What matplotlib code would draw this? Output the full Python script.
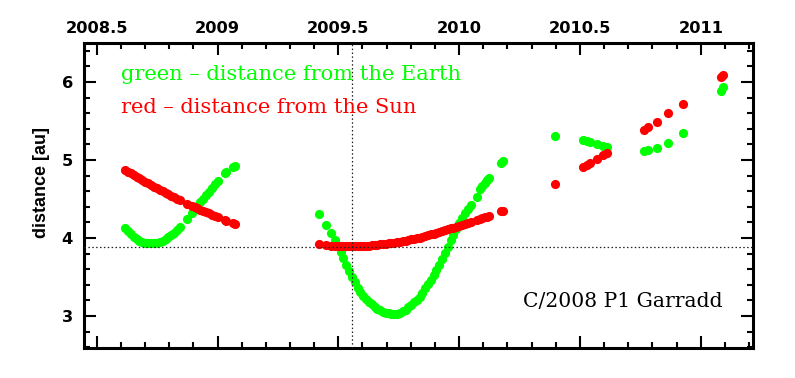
import matplotlib
matplotlib.use('Agg')
import matplotlib.pyplot as plt
from matplotlib.ticker import MultipleLocator, FuncFormatter

# epochs of the observations (decimal year)
dates = [
    2008.617, 2008.629, 2008.641, 2008.653, 2008.665, 2008.677, 2008.689, 2008.701, 2008.713, 2008.725,
    2008.737, 2008.749, 2008.761, 2008.773, 2008.785, 2008.797, 2008.809, 2008.821, 2008.833, 2008.845,
    2008.875, 2008.893, 2008.905, 2008.917, 2008.929, 2008.941, 2008.953, 2008.965, 2008.977, 2008.989,
    2009.001, 2009.030, 2009.036, 2009.066, 2009.072,
    2009.421, 2009.447, 2009.468, 2009.486, 2009.498, 2009.510, 2009.521, 2009.533, 2009.545, 2009.556,
    2009.568, 2009.580, 2009.591, 2009.603, 2009.615, 2009.626, 2009.638, 2009.650, 2009.661, 2009.673,
    2009.685, 2009.696, 2009.708, 2009.720, 2009.731, 2009.743, 2009.755, 2009.766, 2009.778, 2009.790,
    2009.801, 2009.813, 2009.825, 2009.836, 2009.848, 2009.860, 2009.871, 2009.883, 2009.895, 2009.906,
    2009.918, 2009.930, 2009.941, 2009.953, 2009.965, 2009.976, 2009.988, 2010.000, 2010.012, 2010.023,
    2010.035, 2010.047, 2010.072, 2010.087, 2010.096, 2010.106, 2010.116, 2010.122, 2010.172, 2010.180,
    2010.395, 2010.513, 2010.527, 2010.541, 2010.569, 2010.596, 2010.610,
    2010.766, 2010.782, 2010.817, 2010.865, 2010.927, 2011.083, 2011.093,
]

# distance from the Earth [au]
earth = [
    4.132, 4.092, 4.052, 4.018, 3.990, 3.968, 3.951, 3.940, 3.933, 3.932,
    3.935, 3.942, 3.953, 3.967, 3.985, 4.008, 4.035, 4.065, 4.100, 4.137,
    4.244, 4.324, 4.369, 4.414, 4.460, 4.505, 4.551, 4.596, 4.641, 4.687,
    4.732, 4.829, 4.845, 4.905, 4.920,
    4.310, 4.167, 4.060, 3.974, 3.900, 3.825, 3.745, 3.655, 3.572, 3.498,
    3.430, 3.362, 3.303, 3.258, 3.215, 3.178, 3.148, 3.118, 3.094, 3.074,
    3.056, 3.042, 3.033, 3.027, 3.026, 3.031, 3.043, 3.059, 3.083, 3.112,
    3.140, 3.174, 3.208, 3.247, 3.300, 3.354, 3.406, 3.464, 3.523, 3.585,
    3.660, 3.735, 3.808, 3.888, 3.969, 4.042, 4.118, 4.192, 4.262, 4.318,
    4.372, 4.420, 4.530, 4.624, 4.668, 4.710, 4.745, 4.765, 4.960, 4.990,
    5.312, 5.256, 5.248, 5.235, 5.205, 5.184, 5.171,
    5.115, 5.128, 5.150, 5.222, 5.350, 5.888, 5.932,
]

# distance from the Sun [au]
sun = [
    4.872, 4.850, 4.828, 4.806, 4.785, 4.763, 4.742, 4.721, 4.700, 4.680,
    4.660, 4.640, 4.620, 4.600, 4.581, 4.562, 4.543, 4.524, 4.505, 4.487,
    4.442, 4.416, 4.399, 4.382, 4.365, 4.348, 4.332, 4.316, 4.300, 4.284,
    4.268, 4.232, 4.224, 4.188, 4.181,
    3.918, 3.908, 3.902, 3.898, 3.896, 3.894, 3.893, 3.892, 3.892, 3.892,
    3.893, 3.894, 3.896, 3.898, 3.900, 3.903, 3.906, 3.909, 3.913, 3.917,
    3.921, 3.926, 3.930, 3.935, 3.941, 3.946, 3.952, 3.959, 3.966, 3.973,
    3.981, 3.989, 3.997, 4.006, 4.016, 4.027, 4.037, 4.047, 4.057, 4.067,
    4.078, 4.089, 4.100, 4.111, 4.122, 4.134, 4.145, 4.157, 4.169, 4.180,
    4.191, 4.203, 4.228, 4.243, 4.253, 4.264, 4.274, 4.281, 4.345, 4.352,
    4.692, 4.914, 4.936, 4.957, 5.009, 5.064, 5.094,
    5.385, 5.427, 5.491, 5.599, 5.718, 6.060, 6.086,
]

# perihelion: time and distance
t_perihelion = 2009.555
q_perihelion = 3.885

plt.rcParams['font.family'] = 'DejaVu Sans'
plt.rcParams['font.weight'] = 'bold'

fig = plt.figure(figsize=(7.95, 3.78), dpi=100)
ax = fig.add_axes([84/795, 30/378, 669/795, 305/378])

ax.plot(dates, earth, 'o', color='#00ff00', markersize=6.6, markeredgewidth=0, zorder=2)
ax.plot(dates, sun, 'o', color='#ff0000', markersize=6.6, markeredgewidth=0, zorder=2)

ax.axhline(q_perihelion, color='#222222', lw=0.9, linestyle=(0, (1.2, 1.9)), zorder=3)
ax.axvline(t_perihelion, color='#222222', lw=0.9, linestyle=(0, (1.2, 1.9)), zorder=3)

ax.set_xlim(2008.4475, 2011.216)
ax.set_ylim(2.59, 6.5)

ax.xaxis.set_major_locator(MultipleLocator(0.5))
ax.xaxis.set_minor_locator(MultipleLocator(0.1))
ax.yaxis.set_major_locator(MultipleLocator(1))
ax.yaxis.set_minor_locator(MultipleLocator(0.2))
ax.xaxis.set_major_formatter(FuncFormatter(lambda v, p: '%g' % v))
ax.yaxis.set_major_formatter(FuncFormatter(lambda v, p: '%g' % v))

ax.tick_params(which='both', direction='in', top=True, right=True,
               labeltop=True, labelbottom=False, width=1.5, color='black',
               labelsize=11.7)
ax.tick_params(which='major', length=8.6)
ax.tick_params(which='minor', length=4.3)
ax.tick_params(axis='x', pad=5)
ax.tick_params(axis='y', pad=8)

for sp in ax.spines.values():
    sp.set_linewidth(2.2)

ax.set_ylabel('distance [au]', family='Liberation Sans', fontweight='bold', fontsize=13)
ax.yaxis.label.set_verticalalignment('center')
ax.yaxis.set_label_coords(-0.063, 0.543)

ax.text(0.0553, 0.8803, 'green \u2013 distance from the Earth', color='#00ff00',
        family='DejaVu Serif', fontweight='normal', fontsize=15.1,
        transform=ax.transAxes, va='baseline')
ax.text(0.0553, 0.7715, 'red \u2013 distance from the Sun', color='#ff0000',
        family='DejaVu Serif', fontweight='normal', fontsize=15.1,
        transform=ax.transAxes, va='baseline')
ax.text(0.9547, 0.1354, 'C/2008 P1 Garradd', color='black',
        family='DejaVu Serif', fontweight='normal', fontsize=14.6,
        transform=ax.transAxes, ha='right', va='baseline')

plt.savefig('out.png', dpi=100)
plt.close()
